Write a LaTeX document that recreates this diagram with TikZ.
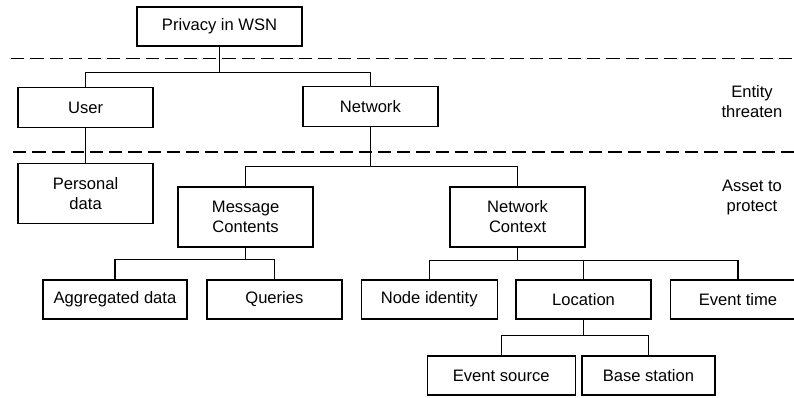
\documentclass[tikz,border=0pt]{standalone}
\usepackage{fontspec}
\setmainfont{Liberation Sans}
\usepackage{tikz}
\usetikzlibrary{shapes, positioning}

\tikzset{
    box/.style={draw, rectangle, line width=0.9pt, minimum width=3.375cm, minimum height=1cm,
        align=center, inner sep=2pt, font=\fontsize{11.8}{14.2}\selectfont},
    tall/.style={minimum height=1.5cm},
    side/.style={align=center, font=\fontsize{11.8}{14.2}\selectfont},
    level/.style={dashed, line width=0.9pt, dash pattern=on 0.33cm off 0.15cm},
    branch/.style={line width=0.9pt}
}

\begin{document}
\begin{tikzpicture}
        \useasboundingbox (0, 0) rectangle (19.85, 9.925);
        \clip (0, 0) rectangle (19.85, 9.925);

        \node[box, minimum width=4.125cm, minimum height=0.975cm] (wsn) at (5.49, 9.26) {Privacy in WSN};
        \node[box] (user) at (2.14, 7.23) {User};
        \node[box] (net) at (9.26, 7.26) {Network};
        \node[box, tall] (pers) at (2.14, 5.08) {Personal\\data};
        \node[box, tall] (msg) at (6.14, 4.5) {Message\\Contents};
        \node[box, tall] (ctx) at (12.94, 4.5) {Network\\Context};
        \node[box, minimum width=3.6cm, minimum height=0.975cm] (aggr) at (2.875, 2.44) {Aggregated data};
        \node[box, minimum height=0.975cm] (query) at (6.86, 2.44) {Queries};
        \node[box, minimum width=3.4cm, minimum height=0.975cm] (ident) at (10.73, 2.44) {Node identity};
        \node[box, minimum height=0.975cm] (loc) at (14.59, 2.44) {Location};
        \node[box, minimum height=0.975cm] (time) at (18.45, 2.44) {Event time};
        \node[box, minimum width=3.7cm, minimum height=0.975cm] (src) at (12.53, 0.54) {Event source};
        \node[box, minimum width=3.325cm, minimum height=0.975cm] (base) at (16.21, 0.54) {Base station};

        \node[side] (entity) at (18.8, 7.375) {Entity\\threaten};
        \node[side] (asset) at (18.8, 4.98) {Asset to\\protect};

        \coordinate (l1a) at (0.28, 8.46);
        \coordinate (l1b) at (19.85, 8.46);
        \coordinate (l2a) at (0.33, 6.125);
        \coordinate (l2b) at (19.85, 6.125);
        \draw[level] (l1a) -- (l1b);
        \draw[level] (l2a) -- (l2b);

        \draw[branch] (wsn.south) -- ++(0, -0.65) -| (user.north);
        \draw[branch] (wsn.south) -- ++(0, -0.65) -| (net.north);
        \draw[branch] (user.south) -- (pers.north);
        \draw[branch] (net.south) -- ++(0, -0.98) -| (msg.north);
        \draw[branch] (net.south) -- ++(0, -0.98) -| (ctx.north);
        \draw[branch] (msg.south) -- ++(0, -0.3) -| (aggr.north);
        \draw[branch] (msg.south) -- ++(0, -0.3) -| (query.north);
        \draw[branch] (ctx.south) -- ++(0, -0.32) -| (ident.north);
        \draw[branch] (ctx.south) -- ++(0, -0.32) -| (loc.north);
        \draw[branch] (ctx.south) -- ++(0, -0.32) -| (time.north);
        \draw[branch] (loc.south) -- ++(0, -0.4) -| (src.north);
        \draw[branch] (loc.south) -- ++(0, -0.4) -| (base.north);
    \end{tikzpicture}
\end{document}
